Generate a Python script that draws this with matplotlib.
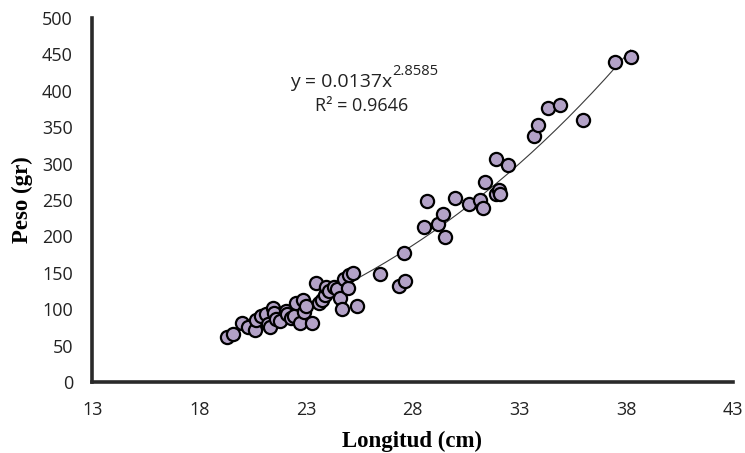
import numpy as np
import matplotlib.pyplot as plt

# Longitud (cm) y peso (gr) de cada ejemplar
longitud = [19.3, 19.6, 20.0, 20.3, 20.6, 20.65, 20.9, 21.15, 21.2, 21.3,
            21.45, 21.5, 21.6, 21.8, 22.05, 22.1, 22.3, 22.45, 22.55, 22.7,
            22.85, 22.9, 23.0, 23.3, 23.45, 23.6, 23.75, 23.9, 23.95, 24.1,
            24.3, 24.45, 24.6, 24.7, 24.8, 24.95, 25.0, 25.2, 25.4, 26.45,
            27.35, 27.65, 27.6, 28.55, 28.65, 29.2, 29.4, 29.5, 30.0, 30.65,
            31.15, 31.3, 31.4, 31.88, 31.9, 32.05, 32.1, 32.45, 33.7, 33.85,
            34.35, 34.9, 35.95, 37.45, 38.2]
peso = [62, 66, 81, 76, 71, 85, 90, 93, 80, 76,
        102, 94, 87, 83, 97, 93, 88, 91, 108, 81,
        113, 96, 104, 81, 136, 108, 113, 120, 130, 125,
        131, 127, 115, 100, 142, 129, 147, 149, 104, 148,
        132, 138, 177, 213, 248, 217, 231, 199, 253, 244,
        250, 239, 275, 306, 258, 264, 258, 298, 338, 353,
        377, 380, 360, 440, 447]

# Ajuste potencial W = a * L^b
a, b = 0.0137, 2.8585
r2 = 0.9646

fig = plt.figure(figsize=(7.45, 4.53), dpi=100)
ax = fig.add_axes([0.124, 0.157, 0.86, 0.803])

xs = np.linspace(min(longitud), max(longitud), 200)
ax.plot(xs, a * xs ** b, color='#3a3a3a', lw=0.8, zorder=2)
ax.scatter(longitud, peso, s=90, c='#b3a2c7', edgecolors='black',
           linewidths=1.6, zorder=3)

# ecuación del ajuste con el exponente como superíndice
ax.text(27.06, 412, 'y = %.4fx' % a, ha='right', va='center',
        fontsize=14, family='Open Sans', color='#222222')
ax.text(27.06, 427, '%.4f' % b, ha='left', va='center',
        fontsize=10.5, family='Open Sans', color='#222222')
ax.text(25.6, 379, 'R² = %.4f' % r2, ha='center', va='center',
        fontsize=13, family='Open Sans', color='#222222')

ax.set_xlim(13, 43)
ax.set_ylim(0, 500)
ax.set_xticks(range(13, 44, 5))
ax.set_yticks(range(0, 501, 50))
for lbl in ax.get_xticklabels() + ax.get_yticklabels():
    lbl.set_family('Open Sans')
    lbl.set_fontsize(13)
    lbl.set_color('#222222')
ax.tick_params(axis='x', length=0, pad=14)
ax.tick_params(axis='y', length=0, pad=14)

ax.spines['top'].set_visible(False)
ax.spines['right'].set_visible(False)
for side in ['left', 'bottom']:
    ax.spines[side].set_linewidth(2.6)
    ax.spines[side].set_color('#2a2a2a')

ax.set_xlabel('Longitud (cm)', family='Liberation Serif', fontweight='bold',
              fontsize=16.5)
ax.set_ylabel('Peso (gr)', family='Liberation Serif', fontweight='bold',
              fontsize=16.5)
ax.xaxis.set_label_coords(0.499, -0.135)
ax.yaxis.set_label_coords(-0.093, 0.5)

fig.savefig('out.png', dpi=100)
